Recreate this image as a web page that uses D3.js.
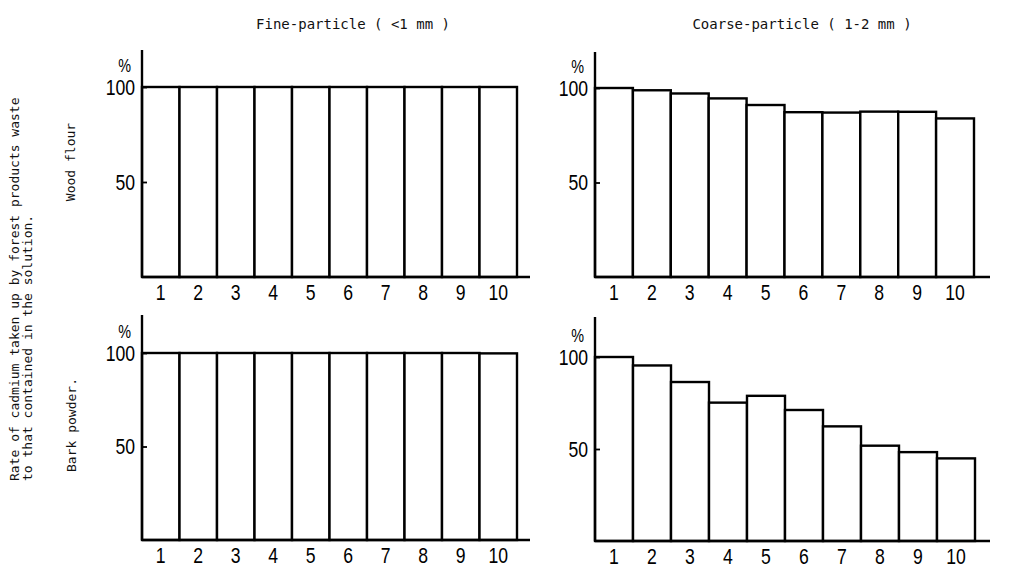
<!DOCTYPE html>
<html>

<head>
    <meta charset='utf-8'>
    <title>Cadmium uptake</title>
    <script type='text/javascript' src='https://cdn.jsdelivr.net/npm/d3@7'></script>
    <style>
        body { margin: 0; background: #fff; }
        .mono { font-family: 'DejaVu Sans Mono', monospace; font-size: 13px; fill: #111; }
        .num { font-family: 'Liberation Sans', Arial, sans-serif; font-size: 22px; fill: #000; }
    </style>
</head>

<body>
    <svg width='1012' height='570'></svg>
    <script type='text/javascript'>
        const svg = d3.select('svg')

        // data
        const categories = ['1', '2', '3', '4', '5', '6', '7', '8', '9', '10']
        const fineWood = [100, 100, 100, 100, 100, 100, 100, 100, 100, 100]
        const coarseWood = [100, 98.8, 97.1, 94.5, 91, 87.2, 87, 87.5, 87.4, 83.9]
        const fineBark = [100, 100, 100, 100, 100, 100, 100, 100, 100, 99.8]
        const coarseBark = [100, 95.4, 86.4, 75.2, 78.9, 71.2, 62.3, 51.8, 48.3, 44.9]
        const yTicks = [50, 100]

        // the digits in the scan are tall and narrow, so squeeze them sideways
        const squeeze = 0.8

        // panel boxes: left of axis, right of last bar, baseline, 100 line, top of axis, end of x axis
        const panels = [
            { values: fineWood, x0: 142, x1: 517, base: 277, top: 87, axisTop: 50, axisEnd: 530 },
            { values: coarseWood, x0: 595, x1: 974, base: 277, top: 88, axisTop: 52, axisEnd: 990 },
            { values: fineBark, x0: 142, x1: 517, base: 540, top: 353, axisTop: 315, axisEnd: 530 },
            { values: coarseBark, x0: 595, x1: 975, base: 541, top: 357, axisTop: 317, axisEnd: 990 }
        ]

        panels.forEach(p => {
            const g = svg.append('g')
            const x = d3.scaleBand().domain(categories).range([p.x0, p.x1]).padding(0)
            const y = d3.scaleLinear().domain([0, 100]).range([p.base, p.top])

            // bars
            g.selectAll('rect').data(p.values)
                .enter().append('rect')
                .attr('x', (d, i) => x(categories[i]))
                .attr('y', d => y(d))
                .attr('width', x.bandwidth())
                .attr('height', d => y(0) - y(d))
                .attr('fill', '#fff')
                .attr('stroke', '#000')
                .attr('stroke-width', 2.4)

            // axis lines
            g.append('line')
                .attr('x1', p.x0).attr('x2', p.x0)
                .attr('y1', p.axisTop).attr('y2', p.base)
                .attr('stroke', '#000').attr('stroke-width', 2.4)
            g.append('line')
                .attr('x1', p.x0).attr('x2', p.axisEnd)
                .attr('y1', p.base).attr('y2', p.base)
                .attr('stroke', '#000').attr('stroke-width', 2.4)

            // y axis, ticks pointing inwards
            const yAxis = g.append('g')
                .attr('transform', `translate(${p.x0},0)`)
                .call(d3.axisLeft(y).tickValues(yTicks).tickSizeInner(-5).tickSizeOuter(0).tickPadding(7))
            yAxis.select('.domain').remove()
            yAxis.selectAll('line').attr('stroke-width', 1.8)
            yAxis.selectAll('text')
                .attr('class', 'num').attr('font-family', null).attr('font-size', null).attr('fill', null)
                .attr('x', -7 / squeeze)
                .attr('transform', `scale(${squeeze},1)`)

            g.append('text').attr('class', 'num')
                .attr('transform', `translate(${p.x0 - 11},${y(100) - 15}) scale(${squeeze},1)`)
                .attr('text-anchor', 'end')
                .style('font-size', '18px')
                .text('%')

            // x axis labels
            const xAxis = g.append('g')
                .attr('transform', `translate(0,${p.base})`)
                .call(d3.axisBottom(x).tickSize(0).tickPadding(7))
            xAxis.select('.domain').remove()
            xAxis.selectAll('text')
                .attr('class', 'num').attr('font-family', null).attr('font-size', null).attr('fill', null)
                .attr('transform', `scale(${squeeze},1)`)
        })

        // column titles
        svg.append('text').attr('class', 'mono')
            .attr('x', 353).attr('y', 29).attr('text-anchor', 'middle')
            .style('font-size', '14px')
            .text('Fine-particle ( <1 mm )')
        svg.append('text').attr('class', 'mono')
            .attr('x', 802).attr('y', 29).attr('text-anchor', 'middle')
            .style('font-size', '14px')
            .text('Coarse-particle ( 1-2 mm )')

        // row labels and main y title, rotated
        const vText = (cx, cy, s, anchor) => svg.append('text').attr('class', 'mono')
            .attr('transform', `translate(${cx},${cy}) rotate(-90)`)
            .attr('text-anchor', anchor)
            .attr('dy', '0.35em')
            .text(s)
        vText(14, 481, 'Rate of cadmium taken up by forest products waste', 'start')
        vText(27, 481, 'to that contained in the solution.', 'start')
        vText(70, 162, 'Wood flour', 'middle')
        vText(71, 425, 'Bark powder.', 'middle')
    </script>
</body>

</html>
